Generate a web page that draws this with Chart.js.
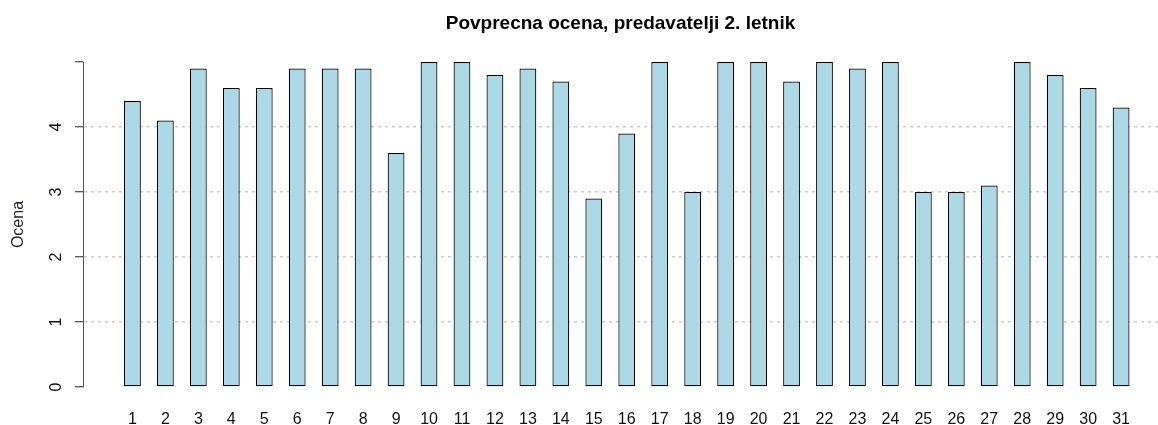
<!DOCTYPE html>
<html>
<head>
<meta charset="utf-8">
<script src="https://cdn.jsdelivr.net/npm/chart.js@4/dist/chart.umd.min.js"></script>
<style>
  html, body { margin: 0; padding: 0; background: #fff; }
  #wrap { width: 1158px; height: 425px; position: relative; }
</style>
</head>
<body>
<div id="wrap"><canvas id="ocene"></canvas></div>
<script>
// data
const chartTitle = "Povprecna ocena, predavatelji 2. letnik";
const yLabel = "Ocena";
const lecturers = ["1","2","3","4","5","6","7","8","9","10","11","12","13","14","15","16",
                   "17","18","19","20","21","22","23","24","25","26","27","28","29","30","31"];
const averages = [4.4, 4.1, 4.9, 4.6, 4.6, 4.9, 4.9, 4.9, 3.6, 5.0, 5.0, 4.8, 4.9, 4.7, 2.9, 3.9,
                  5.0, 3.0, 5.0, 5.0, 4.7, 5.0, 4.9, 5.0, 3.0, 3.0, 3.1, 5.0, 4.8, 4.6, 4.3];
const yTicks = [0, 1, 2, 3, 4, 5];
const yTickLabels = ["0", "1", "2", "3", "4", ""];

const fontFam = "'Liberation Sans', Arial, sans-serif";

// title centred over the plot region, like R does
const plotTitle = {
    id: "plotTitle",
    afterDraw(chart) {
        const {ctx, chartArea} = chart;
        ctx.save();
        ctx.font = "bold 19px " + fontFam;
        ctx.fillStyle = "#000";
        ctx.textAlign = "center";
        ctx.textBaseline = "alphabetic";
        ctx.fillText(chartTitle, (chartArea.left + chartArea.right) / 2, 29);
        ctx.restore();
    }
};

const ctx = document.getElementById("ocene").getContext("2d");
new Chart(ctx, {
    type: "bar",
    data: {
        datasets: [{
            data: averages.map((v, i) => ({x: i + 1, y: v})),
            backgroundColor: "#add8e6",
            borderColor: "#000",
            borderWidth: 1.2,
            borderSkipped: false,
            categoryPercentage: 1,
            barPercentage: 0.51
        }]
    },
    options: {
        responsive: true,
        maintainAspectRatio: false,
        animation: false,
        layout: { padding: { left: 9, right: 0, top: 62, bottom: 0 } },
        plugins: {
            legend: { display: false },
            tooltip: { enabled: false },
            title: { display: false }
        },
        scales: {
            x: {
                type: "linear",
                offset: false,
                min: -0.5,
                max: 32.12,
                grid: { display: false },
                border: { display: false },
                afterBuildTicks: s => { s.ticks = lecturers.map((c, i) => ({value: i + 1})); },
                afterFit: s => { s.height = 38; },
                ticks: {
                    autoSkip: false,
                    maxRotation: 0,
                    padding: 15,
                    color: "#111",
                    font: { family: fontFam, size: 16 },
                    callback: v => lecturers[v - 1]
                }
            },
            y: {
                min: 0,
                max: 5,
                afterBuildTicks: s => { s.ticks = yTicks.map(v => ({value: v})); },
                afterFit: s => { s.width = 83 - 9; },
                grid: {
                    color: c => (c.tick && c.tick.value > 0 && c.tick.value < 5) ? "#cccccc" : "rgba(0,0,0,0)",
                    lineWidth: 1.5,
                    drawTicks: true,
                    tickLength: 8,
                    tickColor: "#222",
                    tickWidth: 1
                },
                border: { display: true, color: "#555", width: 1, dash: [3, 4] },
                title: {
                    display: true,
                    text: yLabel,
                    color: "#223",
                    font: { family: fontFam, size: 16 },
                    padding: { top: 0, bottom: 0 }
                },
                ticks: {
                    minRotation: 90,
                    maxRotation: 90,
                    crossAlign: "center",
                    padding: 14,
                    color: "#111",
                    font: { family: fontFam, size: 16 },
                    callback: (v, i) => yTickLabels[yTicks.indexOf(v)]
                }
            }
        }
    },
    plugins: [plotTitle]
});
</script>
</body>
</html>
